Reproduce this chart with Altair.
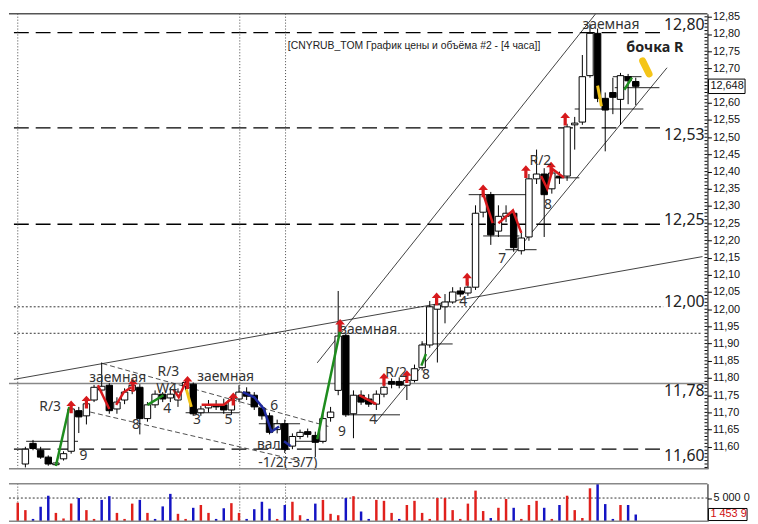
import altair as alt
import pandas as pd

# ---------------- data ----------------
candle_idx = list(range(81))
opens = [11.55, 11.61, 11.59, 11.57, 11.548, 11.565, 11.587, 11.705, 11.69, 11.736,
         11.765, 11.779, 11.71, 11.736, 11.764, 11.773, 11.682, 11.722, 11.753, 11.742,
         11.736, 11.776, 11.782, 11.699, 11.713, 11.722, 11.722, 11.707, 11.739, 11.759,
         11.75, 11.713, 11.69, 11.65, 11.667, 11.602, 11.63, 11.644, 11.633, 11.616,
         11.685, 11.764, 11.924, 11.696, 11.75, 11.739, 11.724, 11.753, 11.79, 11.79,
         11.779, 11.793, 11.83, 11.896, 12.0, 12.007, 12.021, 12.053, 12.047, 12.064,
         12.282, 12.333, 12.227, 12.27, 12.279, 12.17, 12.21, 12.379, 12.393, 12.35,
         12.387, 12.387, 12.536, 12.544, 12.679, 12.802, 12.613, 12.63, 12.61, 12.676,
         12.662]
highs = [11.60, 11.62, 11.60, 11.575, 11.556, 11.587, 11.716, 11.716, 11.736, 11.78,
         11.845, 11.785, 11.744, 11.77, 11.787, 11.782, 11.73, 11.764, 11.759, 11.773,
         11.77, 11.796, 11.787, 11.719, 11.736, 11.736, 11.74, 11.744, 11.779, 11.773,
         11.759, 11.722, 11.699, 11.679, 11.679, 11.639, 11.65, 11.653, 11.644, 11.70,
         11.716, 12.053, 11.93, 11.764, 11.764, 11.753, 11.764, 11.799, 11.799, 11.802,
         11.81, 11.839, 11.907, 12.024, 12.03, 12.044, 12.064, 12.064, 12.079, 12.302,
         12.341, 12.341, 12.302, 12.302, 12.287, 12.222, 12.393, 12.464, 12.41, 12.41,
         12.40, 12.539, 12.559, 12.739, 12.83, 12.816, 12.63, 12.673, 12.687, 12.684,
         12.673]
lows = [11.54, 11.59, 11.565, 11.545, 11.545, 11.56, 11.58, 11.64, 11.665, 11.73,
        11.754, 11.696, 11.696, 11.724, 11.753, 11.636, 11.673, 11.713, 11.73, 11.73,
        11.716, 11.764, 11.69, 11.69, 11.70, 11.707, 11.696, 11.693, 11.73, 11.736,
        11.707, 11.679, 11.636, 11.639, 11.582, 11.593, 11.622, 11.627, 11.57, 11.61,
        11.673, 11.75, 11.687, 11.625, 11.722, 11.716, 11.707, 11.744, 11.77, 11.77,
        11.736, 11.787, 11.822, 11.888, 11.845, 11.959, 12.016, 12.036, 12.039, 12.056,
        12.267, 12.187, 12.21, 12.253, 12.167, 12.159, 12.199, 12.364, 12.21, 12.336,
        12.364, 12.373, 12.464, 12.536, 12.673, 12.602, 12.459, 12.567, 12.536, 12.596,
        12.593]
closes = [11.593, 11.595, 11.57, 11.55, 11.553, 11.58, 11.71, 11.687, 11.725, 11.773,
          11.776, 11.705, 11.73, 11.759, 11.779, 11.682, 11.722, 11.753, 11.739, 11.753,
          11.759, 11.787, 11.696, 11.71, 11.722, 11.716, 11.707, 11.736, 11.759, 11.747,
          11.716, 11.69, 11.642, 11.667, 11.593, 11.63, 11.642, 11.636, 11.613, 11.682,
          11.701, 11.922, 11.693, 11.75, 11.73, 11.724, 11.753, 11.773, 11.782, 11.779,
          11.793, 11.827, 11.896, 12.007, 12.013, 12.021, 12.05, 12.044, 12.064, 12.279,
          12.333, 12.216, 12.27, 12.279, 12.179, 12.207, 12.379, 12.393, 12.333, 12.396,
          12.382, 12.53, 12.541, 12.676, 12.802, 12.613, 12.579, 12.616, 12.679, 12.664,
          12.648]

volume_idx = list(range(-1, 81))
volumes = [4000, 2400, 500, 3100, 5500, 1800, 600, 3800, 5000, 2400,
           500, 4600, 5400, 1800, 500, 3800, 4600, 1800, 500, 3200,
           5900, 1600, 500, 2900, 3500, 1800, 500, 2800, 3900, 1800,
           500, 2600, 4200, 2700, 500, 3500, 4200, 1300, 500, 3800,
           4600, 1600, 1300, 5000, 5400, 2100, 500, 4600, 4400, 1800,
           500, 3500, 4400, 1800, 500, 5000, 5000, 2400, 500, 3800,
           6600, 2200, 700, 2900, 4800, 2900, 500, 3500, 4400, 2900,
           500, 3500, 5500, 2400, 700, 7100, 8100, 3700, 500, 3500,
           3500, 1454]
volume_side = ["r", "r", "b", "b", "b", "r", "r", "r", "b", "r",
               "r", "b", "b", "r", "r", "r", "b", "r", "b", "b",
               "b", "r", "r", "b", "r", "r", "b", "b", "r", "r",
               "b", "b", "b", "b", "r", "b", "r", "r", "b", "b",
               "r", "r", "r", "b", "r", "b", "b", "r", "r", "r",
               "b", "r", "r", "r", "r", "r", "r", "r", "r", "r",
               "r", "r", "b", "r", "r", "b", "r", "r", "r", "b",
               "r", "b", "r", "r", "r", "r", "b", "b", "b", "r",
               "b", "b"]

price_ticks = [11.60, 11.65, 11.70, 11.75, 11.80, 11.85, 11.90, 11.95, 12.00, 12.05,
               12.10, 12.15, 12.20, 12.25, 12.30, 12.35, 12.40, 12.45, 12.50, 12.55,
               12.60, 12.65, 12.70, 12.75, 12.80, 12.85]

# horizontal levels
dashed_levels = [12.804, 12.527, 12.247, 11.593]
dotted_levels = [12.007, 11.93]
solid_levels = [11.784]
level_labels = ["12,80", "12,53", "12,25", "12,00", "11,78", "11,60"]
level_label_prices = [12.825, 12.507, 12.259, 12.022, 11.762, 11.573]

# vertical session separators (candle index)
separators = [-1, 28.1, 34.1]

# trend lines (index, price)
trend_lines = [
    [(-1.5, 11.796), (88.75, 12.153)],
    [(38.25, 11.844), (74.75, 12.859)],
    [(46, 11.673), (84.1, 12.702)],
]
wedge_lines = [
    [(10.1, 11.842), (39.75, 11.659)],
    [(8.5, 11.701), (36, 11.559)],
]
short_levels = [  # (start idx, end idx, price)
    (0.1, 6.9, 11.616), (21, 28.1, 11.699), (30.6, 36, 11.667), (35.1, 39.4, 11.616),
    (42.25, 49.1, 11.693), (51.9, 56, 11.899), (58.1, 65.75, 12.333), (60, 64.75, 12.213),
    (62.9, 67, 12.173), (69.4, 72.6, 12.382), (72, 81, 12.582), (77.25, 83.1, 12.644),
    (77, 80.75, 12.676),
]
red_waves = [
    [(9.5, 11.779), (11, 11.71)],
    [(11.9, 11.722), (12.9, 11.759), (13.9, 11.773)],
    [(19.4, 11.767), (20.1, 11.744), (21, 11.787)],
    [(23.1, 11.722), (26, 11.722), (27, 11.739)],
    [(43.75, 11.75), (46, 11.724)],
    [(60, 12.336), (61.25, 12.25)],
    [(62, 12.25), (63.9, 12.287), (65, 12.222)],
    [(67.6, 12.387), (68.4, 12.35), (69.1, 12.407), (70.6, 12.382)],
]
blue_waves = [
    [(28.5, 11.759), (30, 11.744), (31.25, 11.71), (32.25, 11.644), (33.25, 11.659)],
    [(33.9, 11.616), (34.75, 11.602)],
]
green_waves = [
    [(4, 11.544), (5.75, 11.716)],
    [(16, 11.722), (18.1, 11.75)],
    [(38.25, 11.622), (41.4, 11.953)],
    [(51.9, 11.836), (52.5, 11.87)],
    [(78.5, 12.638), (79.5, 12.673)],
]
yellow_waves = [
    [(21.1, 11.767), (21.75, 11.716)],
    [(75, 12.65), (75.5, 12.59)],
]
barrel_mark = [[(80.9, 12.722), (81.75, 12.684)]]

arrow_idx = [6, 8, 14.1, 21.25, 27.25, 41.25, 47, 50, 53.9, 57.9, 60, 65.6, 68.9, 70.75]
arrow_price = [11.716, 11.73, 11.779, 11.787, 11.739, 11.953, 11.796, 11.804, 12.03,
               12.087, 12.344, 12.40, 12.41, 12.553]

note_text = ["R/3", "заемная", "R/3", "W4", "заемная", "9", "8", "4", "3", "5", "6",
             "вал", "-1/2(-3/7)", "9", "4", "R/2", "8", "заемная", "4", "7", "8", "R/2",
             "заемная"]
note_idx = [3.25, 12.1, 18.75, 18.5, 26.25, 7.6, 14.5, 18.6, 22.5, 26.6, 32.6,
            31.9, 34.4, 41.5, 45.6, 48.6, 52.5, 45, 57.4, 62.5, 68.5, 67.5, 76.75]
note_price = [11.716, 11.799, 11.818, 11.768, 11.802, 11.572, 11.662, 11.71, 11.679, 11.679,
              11.719, 11.605, 11.553, 11.644, 11.679, 11.813, 11.81, 11.939, 12.022,
              12.147, 12.302, 12.43, 12.827]

title_text = "[CNYRUB_TOM График цены и объёма #2 - [4 часа]]"
barrel_text = "бочка R"
last_price_text = "12,648"
volume_ref_text = "5 000 0"
volume_last_text = "1 453 9"
volume_ref_value = 5000

# ---------------- layout ----------------
W = 706
H = 460
VH = 38
xs = alt.Scale(domain=[-1.5, 88.75], nice=False, zero=False)
ys = alt.Scale(domain=[11.536, 12.859], nice=False, zero=False)
vs = alt.Scale(domain=[0, 8100], nice=False, zero=False)
FONT = "Noto Sans"

price_axis = alt.Axis(
    orient="right", values=price_ticks, grid=False, title=None,
    labelExpr="abs(datum.value - 12.65) < 0.001 ? '' : replace(format(datum.value, '.2f'), '.', ',')",
    tickSize=4, tickColor="black", domainColor="black", labelColor="#111",
    labelFont="Liberation Sans", labelFontSize=11, labelPadding=1, labelOverlap=False)
vol_axis = alt.Axis(orient="right", values=[volume_ref_value], labels=False, grid=False, title=None,
                    tickSize=4, tickColor="black", domainColor="black")


def X(f):
    return alt.X(f, type="quantitative", scale=xs, axis=None)


def Y(f):
    return alt.Y(f, type="quantitative", scale=ys, axis=price_axis)


def V(f):
    return alt.Y(f, type="quantitative", scale=vs, axis=vol_axis)


def poly(segs, color, width, dash=None, cap="butt"):
    rows = []
    for g, pts in enumerate(segs):
        for k, (xi, pi) in enumerate(pts):
            rows.append({"g": g, "k": k, "i": xi, "p": pi})
    kw = dict(color=color, strokeWidth=width, clip=True, strokeCap=cap)
    if dash:
        kw["strokeDash"] = dash
    return alt.Chart(pd.DataFrame(rows)).mark_line(**kw).encode(
        x=X("i"), y=Y("p"), detail="g:N", order="k:Q")


cdf = pd.DataFrame({"i": candle_idx, "o": opens, "h": highs, "l": lows, "c": closes})
cdf["lo"] = cdf[["o", "c"]].min(axis=1)
cdf["hi"] = cdf[["o", "c"]].max(axis=1)
cdf["dir"] = ["up" if c >= o else "down" for o, c in zip(opens, closes)]

minor_df = pd.DataFrame({"p": [round(11.54 + 0.01 * k, 2) for k in range(132)]})
minor = alt.Chart(minor_df).mark_rule(color="black", strokeWidth=1).encode(
    x=alt.value(W - 3), x2=alt.value(W), y=Y("p"))

wicks = alt.Chart(cdf).mark_rule(color="black", strokeWidth=1).encode(
    x=X("i"), y=Y("l"), y2="h:Q")
bodies = alt.Chart(cdf).mark_bar(size=6.5, stroke="black", strokeWidth=1).encode(
    x=X("i"), y=Y("lo"), y2="hi:Q",
    fill=alt.Fill("dir:N", scale=alt.Scale(domain=["up", "down"], range=["white", "black"]), legend=None))

dash_df = pd.DataFrame({"p": dashed_levels, "i1": -1.5, "i2": 83.6})
dashed = alt.Chart(dash_df).mark_rule(color="black", strokeWidth=1.3, strokeDash=[15, 7]).encode(
    x=X("i1"), x2="i2:Q", y=Y("p"))
dot_df = pd.DataFrame({"p": dotted_levels, "i1": -1.5, "i2": [83.6, 88.75]})
dotted = alt.Chart(dot_df).mark_rule(color="#333", strokeWidth=1, strokeDash=[2, 2]).encode(
    x=X("i1"), x2="i2:Q", y=Y("p"))
solid_df = pd.DataFrame({"p": solid_levels})
solid = alt.Chart(solid_df).mark_rule(color="#888", strokeWidth=1.6).encode(
    x=alt.value(0), x2=alt.value(W), y=Y("p"))

sep_df = pd.DataFrame({"i": separators})
seps = alt.Chart(sep_df).mark_rule(color="#444", strokeWidth=1, strokeDash=[1, 2]).encode(
    x=X("i"), y=alt.value(0), y2=alt.value(H))

sl_df = pd.DataFrame(short_levels, columns=["i1", "i2", "p"])
shorts = alt.Chart(sl_df).mark_rule(color="#222", strokeWidth=1).encode(
    x=X("i1"), x2="i2:Q", y=Y("p"))

lbl_df = pd.DataFrame({"t": level_labels, "p": level_label_prices})
lvl_text = alt.Chart(lbl_df).mark_text(font=FONT, fontSize=16, color="#222", align="right",
                                       baseline="middle").encode(
    x=alt.value(W - 3), y=Y("p"), text="t:N")

arrow_shape = "M0,-1L0.75,-0.15L0.25,-0.15L0.25,1L-0.25,1L-0.25,-0.15L-0.75,-0.15Z"
arr_df = pd.DataFrame({"i": arrow_idx, "p": arrow_price})
arrows = alt.Chart(arr_df).mark_point(shape=arrow_shape, filled=True, color="#d7191c",
                                      size=170, opacity=1).encode(x=X("i"), y=Y("p"))

note_df = pd.DataFrame({"t": note_text, "i": note_idx, "p": note_price})
notes = alt.Chart(note_df).mark_text(font=FONT, fontSize=14, color="#333", baseline="middle").encode(
    x=X("i"), y=Y("p"), text="t:N")
barrel = alt.Chart(pd.DataFrame({"t": [barrel_text], "i": [82.5], "p": [12.759]})).mark_text(
    font=FONT, fontSize=14.5, fontWeight="bold", color="#222", baseline="middle").encode(
    x=X("i"), y=Y("p"), text="t:N")
title = alt.Chart(pd.DataFrame({"t": [title_text], "i": [34.4], "p": [12.764]})).mark_text(
    font="Liberation Sans", fontSize=10.5, color="#222", align="left", baseline="middle").encode(
    x=X("i"), y=Y("p"), text="t:N")

last_df = pd.DataFrame({"p": [closes[-1]], "t": [last_price_text]})
last_df["p1"] = last_df["p"] + 0.021
last_df["p2"] = last_df["p"] - 0.021
last_box = alt.Chart(last_df).mark_rect(fill="white", stroke="black", strokeWidth=1).encode(
    x=alt.value(W + 1), x2=alt.value(W + 38), y=Y("p1"), y2="p2:Q")
last_txt = alt.Chart(last_df).mark_text(font="Liberation Sans", fontSize=11, color="#111",
                                        align="left", baseline="middle").encode(
    x=alt.value(W + 3), y=Y("p"), text="t:N")

top_line = alt.Chart(pd.DataFrame({"a": [0]})).mark_rule(color="#555", strokeWidth=1.5).encode(
    x=alt.value(0), x2=alt.value(W), y=alt.value(0))
bottom_line = alt.Chart(pd.DataFrame({"a": [0]})).mark_rule(color="#888", strokeWidth=1.5).encode(
    x=alt.value(0), x2=alt.value(W), y=alt.value(H))

price = alt.layer(
    minor, dotted, solid, dashed, seps, shorts, lvl_text,
    poly(trend_lines, "#111", 0.8),
    poly(wedge_lines, "#222", 0.8, dash=[5, 3]),
    wicks, bodies,
    poly(green_waves, "#1e8c1e", 2.5),
    poly(red_waves, "#d7191c", 2.5),
    poly(blue_waves, "#1f2a9e", 2.5),
    poly(yellow_waves, "#f2c417", 3),
    poly(barrel_mark, "#f5c518", 7, cap="round"),
    arrows, notes, barrel, title, top_line, bottom_line, last_box, last_txt,
).properties(width=W, height=H)

# ---------------- volume ----------------
vdf = pd.DataFrame({"i": volume_idx, "v": volumes, "s": volume_side})
vgrid = alt.Chart(pd.DataFrame({"v": [volume_ref_value]})).mark_rule(
    color="#333", strokeDash=[2, 2], strokeWidth=1).encode(
    x=alt.value(0), x2=alt.value(W), y=V("v"))
vbars = alt.Chart(vdf).mark_bar(size=2.5).encode(
    x=X("i"), y=V("v"),
    color=alt.Color("s:N", scale=alt.Scale(domain=["r", "b"], range=["#e0201c", "#1414c4"]), legend=None))
vseps = alt.Chart(sep_df).mark_rule(color="#444", strokeWidth=1, strokeDash=[1, 2]).encode(
    x=X("i"), y=alt.value(0), y2=alt.value(VH))
vtop = alt.Chart(pd.DataFrame({"a": [0]})).mark_rule(color="#888", strokeWidth=1.5).encode(
    x=alt.value(0), x2=alt.value(W), y=alt.value(0))
vbot = alt.Chart(pd.DataFrame({"a": [0]})).mark_rule(color="#888", strokeWidth=1.5).encode(
    x=alt.value(0), x2=alt.value(W), y=alt.value(VH))
vref_txt = alt.Chart(pd.DataFrame({"v": [volume_ref_value], "t": [volume_ref_text]})).mark_text(
    font="Liberation Sans", fontSize=11, color="#111", align="left", baseline="middle").encode(
    x=alt.value(W + 6), y=V("v"), text="t:N")
vlast_df = pd.DataFrame({"v": [volumes[-1]], "t": [volume_last_text]})
vlast_df["v1"] = vlast_df["v"] + 1300
vlast_df["v2"] = vlast_df["v"] - 1300
vlast_box = alt.Chart(vlast_df).mark_rect(fill="white", stroke="black", strokeWidth=1).encode(
    x=alt.value(W + 1), x2=alt.value(W + 40), y=V("v1"), y2="v2:Q")
vlast_txt = alt.Chart(vlast_df).mark_text(font="Liberation Sans", fontSize=11, color="#d01010",
                                          align="left", baseline="middle").encode(
    x=alt.value(W + 3), y=V("v"), text="t:N")

volume = alt.layer(vgrid, vseps, vbars, vtop, vbot, vref_txt, vlast_box, vlast_txt).properties(
    width=W, height=VH)

chart = alt.vconcat(price, volume, spacing=12).properties(
    padding=0, background="white").configure_view(stroke=None)

chart.save("out.html", embed_options={"renderer": "svg", "actions": False})
